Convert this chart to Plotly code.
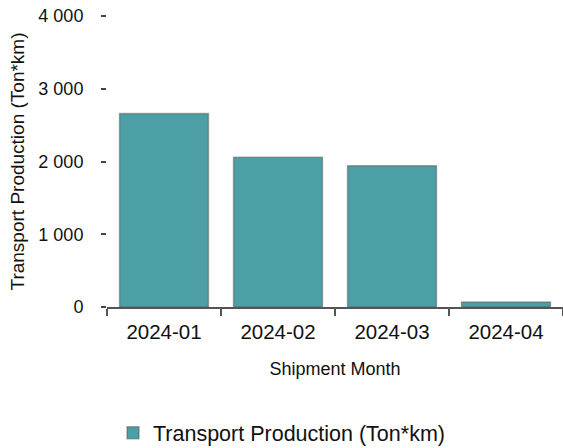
import plotly.graph_objects as go

months = ["2024-01", "2024-02", "2024-03", "2024-04"]
production = [2660, 2058, 1942, 70]
y_ticks = [0, 1000, 2000, 3000, 4000]

series_name = "Transport Production (Ton*km)"
bar_color = "#4c9fa5"
font_family = "Liberation Sans, Arial, sans-serif"

fig = go.Figure()
fig.add_trace(go.Bar(
    x=months, y=production, name=series_name,
    marker=dict(color=bar_color, line=dict(color="rgba(80,80,80,0.45)", width=1.5)),
    width=0.78,
))

fig.update_layout(
    width=563, height=448,
    margin=dict(l=107, r=0, t=16, b=141, autoexpand=False),
    paper_bgcolor="white", plot_bgcolor="white",
    separators=". ",
    font=dict(family=font_family, color="#111111"),
    showlegend=True,
    legend=dict(orientation="h", x=0.5, xanchor="center", xref="container",
                y=0.034, yanchor="middle", yref="container",
                font=dict(size=21.5, family=font_family, color="#111111")),
    xaxis=dict(
        type="category", automargin=False,
        showline=True, linecolor="#555555", linewidth=1.5,
        ticks="outside", tickson="boundaries", ticklen=7, tickcolor="#555555", tickwidth=1.5,
        ticklabelstandoff=6,
        tickfont=dict(size=20.5, family=font_family, color="#111111"),
        title=dict(text="Shipment Month", font=dict(size=18, family=font_family, color="#111111"), standoff=20),
        showgrid=False, zeroline=False,
    ),
    yaxis=dict(
        range=[0, 4000], tickvals=y_ticks, tickformat=",d", automargin=False,
        showline=False, showgrid=False, zeroline=False,
        ticks="outside", ticklen=5, tickcolor="#444444", tickwidth=1.5,
        ticklabelstandoff=14, ticklabeloverflow="allow",
        tickfont=dict(size=18, family=font_family, color="#111111"),
        title=dict(text=series_name, font=dict(size=19, family=font_family, color="#111111"), standoff=8),
    ),
)

fig.write_html("out.html", config={"displayModeBar": False},
               post_script="document.body.style.margin='0';")
